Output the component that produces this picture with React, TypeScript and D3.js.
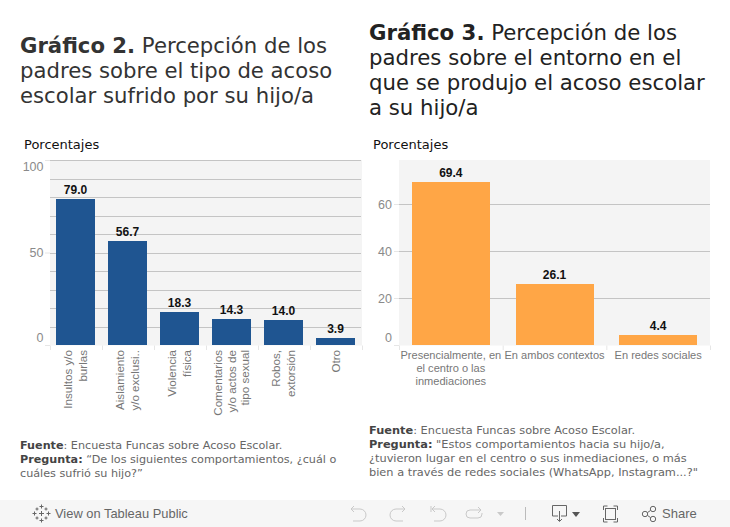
import React from "react";
import * as d3 from "d3";

const categories2 = [["Insultos y/o", "burlas"], ["Aislamiento", "y/o exclusi.."], ["Violencia", "física"], ["Comentarios", "y/o actos de", "tipo sexual"], ["Robos,", "extorsión"], ["Otro"]];
const values2 = [79.0, 56.7, 18.3, 14.3, 14.0, 3.9];
const gridTicks2 = [0, 10, 20, 30, 40, 50, 60, 70, 80, 90, 100];
const labelTicks2 = [0, 50, 100];

const categories3 = [["Presencialmente, en", "el centro o las", "inmediaciones"], ["En ambos contextos"], ["En redes sociales"]];
const values3 = [69.4, 26.1, 4.4];
const gridTicks3 = [0, 20, 40, 60];

const title2 = [[["Gráfico 2.", true], [" Percepción de los", false]], [["padres sobre el tipo de acoso", false]], [["escolar sufrido por su hijo/a", false]]] as [string, boolean][][];
const title3 = [[["Gráfico 3.", true], [" Percepción de los", false]], [["padres sobre el entorno en el", false]], [["que se produjo el acoso escolar", false]], [["a su hijo/a", false]]] as [string, boolean][][];
const foot2 = [[["Fuente", true], [": Encuesta Funcas sobre Acoso Escolar.", false]], [["Pregunta:", true], [" “De los siguientes comportamientos, ¿cuál o", false]], [["cuáles sufrió su hijo?”", false]]] as [string, boolean][][];
const foot3 = [[["Fuente", true], [": Encuesta Funcas sobre Acoso Escolar.", false]], [["Pregunta:", true], [" \"Estos comportamientos hacia su hijo/a,", false]], [["¿tuvieron lugar en el centro o sus inmediaciones, o más", false]], [["bien a través de redes sociales (WhatsApp, Instagram...?\"", false]]] as [string, boolean][][];

const SANS = "'DejaVu Sans', sans-serif";
const ARIAL = "'Liberation Sans', Arial, sans-serif";

function Rich({ lines, x, y, lh, size, fill, boldFill }: { lines: [string, boolean][][]; x: number; y: number; lh: number; size: number; fill: string; boldFill?: string }) {
  return (
    <text fontFamily={SANS} fontSize={size} fill={fill}>
      {lines.map((ln, i) => (
        <tspan key={i} x={x} y={y + i * lh}>
          {ln.map(([t, b], j) => (
            <tspan key={j} fontWeight={b ? 700 : 400} fill={b && boldFill ? boldFill : undefined} xmlSpace="preserve">{t}</tspan>
          ))}
        </tspan>
      ))}
    </text>
  );
}

function ChartA() {
  const x = d3.scaleBand<number>().domain(d3.range(values2.length)).range([49.5, 361.5]).paddingInner(0.25).paddingOuter(0.125);
  const y = d3.scaleLinear().domain([0, 100]).range([345.5, 160.5]);
  const labelY: Record<number, number> = { 0: -3.5, 50: 4, 100: 10.5 };
  return (
    <g>
      <rect x={50} y={160} width={312} height={185.5} fill="#f4f4f4" />
      {gridTicks2.slice(1).map((t) => (
        <line key={t} x1={50} x2={361} y1={Math.floor(y(t)) + 0.5} y2={Math.floor(y(t)) + 0.5} stroke="#c4c4c4" strokeWidth={1} />
      ))}
      {labelTicks2.map((t) => (
        <g key={t}>
          <line x1={45} x2={50} y1={y(t)} y2={y(t)} stroke="#e6e6e6" />
          <text x={43.5} y={y(t) + labelY[t]} textAnchor="end" fontFamily={ARIAL} fontSize={12.5} fill="#8a8a8a">{t}</text>
        </g>
      ))}
      {d3.range(values2.length + 1).map((i) => (
        <line key={i} x1={50.5 + i * x.step()} x2={50.5 + i * x.step()} y1={345.5} y2={350} stroke="#e6e6e6" />
      ))}
      {values2.map((v, i) => (
        <g key={i}>
          <rect x={x(i)} y={Math.round(y(v))} width={x.bandwidth()} height={345 - Math.round(y(v))} fill="#1f5591" />
          <text x={x(i)! + x.bandwidth() / 2} y={y(v) - 5} textAnchor="middle" fontFamily={ARIAL} fontWeight={700} fontSize={12} fill="#111">{v.toFixed(1)}</text>
        </g>
      ))}
      {categories2.map((lines, i) => (
        <g key={i}>
          {lines.map((ln, j) => {
            const step = lines.length === 3 ? 13.5 : 15;
            const bx = x(i)! + x.bandwidth() / 2 + (j - (lines.length - 1) / 2) * step + 4;
            return (
              <text key={j} transform={`translate(${bx},350) rotate(-90)`} textAnchor="end" fontFamily={ARIAL} fontSize={11.6} fill="#777">{ln}</text>
            );
          })}
        </g>
      ))}
    </g>
  );
}

function ChartB() {
  const x = d3.scaleBand<number>().domain(d3.range(values3.length)).range([399, 710]).paddingInner(0.25).paddingOuter(0.125);
  const y = d3.scaleLinear().domain([0, 60]).range([345.5, 204.5]);
  return (
    <g>
      <rect x={399} y={160} width={311} height={185.5} fill="#f4f4f4" />
      {gridTicks3.slice(1).map((t) => (
        <line key={t} x1={399} x2={710} y1={y(t)} y2={y(t)} stroke="#c4c4c4" />
      ))}
      {gridTicks3.map((t) => (
        <g key={t}>
          <line x1={394} x2={399} y1={y(t)} y2={y(t)} stroke="#e6e6e6" />
          <text x={392} y={t === 0 ? y(t) - 3.5 : y(t) + 4} textAnchor="end" fontFamily={ARIAL} fontSize={12.5} fill="#8a8a8a">{t}</text>
        </g>
      ))}
      {d3.range(values3.length + 1).map((i) => (
        <line key={i} x1={399.5 + i * x.step()} x2={399.5 + i * x.step()} y1={345.5} y2={350} stroke="#e6e6e6" />
      ))}
      {values3.map((v, i) => (
        <g key={i}>
          <rect x={Math.round(x(i)!)} y={Math.round(y(v))} width={78} height={345 - Math.round(y(v))} fill="#ffa646" />
          <text x={x(i)! + x.bandwidth() / 2} y={y(v) - 5} textAnchor="middle" fontFamily={ARIAL} fontWeight={700} fontSize={12} fill="#111">{v.toFixed(1)}</text>
        </g>
      ))}
      {categories3.map((lines, i) =>
        lines.map((ln, j) => (
          <text key={`${i}-${j}`} x={x(i)! + x.bandwidth() / 2} y={359 + j * 13} textAnchor="middle" fontFamily={ARIAL} fontSize={11.05} fill="#777">{ln}</text>
        ))
      )}
    </g>
  );
}

function Plus({ cx, cy, r, w }: { cx: number; cy: number; r: number; w: number }) {
  return <path d={`M${cx - r} ${cy}h${2 * r}M${cx} ${cy - r}v${2 * r}`} stroke="#666" strokeWidth={w} fill="none" />;
}

function Toolbar() {
  const icon = { fill: "none", stroke: "#c9c9c9", strokeWidth: 1 };
  const dark = { fill: "none", stroke: "#666", strokeWidth: 1 };
  return (
    <g>
      <rect x={0} y={500} width={730} height={27} fill="#f6f6f6" />
      <Plus cx={41.5} cy={513.5} r={2.5} w={1} />
      <Plus cx={41.5} cy={506.5} r={2} w={1} />
      <Plus cx={41.5} cy={520.5} r={2} w={1} />
      <Plus cx={34.5} cy={513.5} r={2} w={1} />
      <Plus cx={48.5} cy={513.5} r={2} w={1} />
      <Plus cx={37} cy={509} r={1.5} w={1} />
      <Plus cx={46} cy={509} r={1.5} w={1} />
      <Plus cx={37} cy={518} r={1.5} w={1} />
      <Plus cx={46} cy={518} r={1.5} w={1} />
      <text x={55} y={518} fontFamily={ARIAL} fontSize={12.9} fill="#666">View on Tableau Public</text>
      <g {...icon}>
        <path d="M351 509h9a6 6 0 0 1 0 12h-7M351 509l3-3M351 509l3 3" />
        <path d="M405 509h-9a6 6 0 0 0 0 12h7M405 509l-3-3M405 509l-3 3" />
        <path d="M431 506v6M432 509h8a6 6 0 0 1 0 12h-6M432 509l3-3M432 509l3 3" />
        <path d="M480 510h-10a4 4 0 0 0 0 8h8a4 4 0 0 0 4-4v-1M478 507l3 3-3 3" />
      </g>
      <path d="M497 512h7l-3.5 4z" fill="#c9c9c9" />
      <line x1={525.5} x2={525.5} y1={507} y2={520} stroke="#bbb" />
      <g {...dark}>
        <path d="M558 516h-5.5v-10.500h14v10.500h-5.500M559.500 511v10M557 519l2.500 2.500 2.500-2.500" />
      </g>
      <path d="M572 512h8l-4 5z" fill="#555" />
      <g {...dark}>
        <path d="M603.500 510v-4h4M613.500 506h4v4M603.500 518v4h4M613.500 522h4v-4" />
        <rect x={605.5} y={508.5} width={10} height={11} />
      </g>
      <g {...dark}>
        <circle cx={645} cy={514} r={2.7} />
        <circle cx={653} cy={509} r={2.7} />
        <circle cx={653} cy={519} r={2.7} />
        <path d="M647.500 512.500l3-2M647.500 515.500l3 2" />
      </g>
      <text x={662} y={518} fontFamily={ARIAL} fontSize={13} fill="#666">Share</text>
    </g>
  );
}

export default function App() {
  return (
    <svg width={730} height={527} style={{ position: "absolute", left: 0, top: 0, background: "#fff" }}>
      <Rich lines={title2} x={20} y={53} lh={25} size={21.2} fill="#333" />
      <Rich lines={title3} x={369} y={40} lh={25} size={21.25} fill="#222" />
      <text x={24} y={149} fontFamily={SANS} fontSize={13} fill="#111">Porcentajes</text>
      <text x={373} y={149} fontFamily={SANS} fontSize={13} fill="#111">Porcentajes</text>
      <ChartA />
      <ChartB />
      <Rich lines={foot2} x={20} y={449} lh={14} size={11.2} fill="#666" boldFill="#444" />
      <Rich lines={foot3} x={369} y={434} lh={14} size={11.35} fill="#666" boldFill="#444" />
      <Toolbar />
    </svg>
  );
}
